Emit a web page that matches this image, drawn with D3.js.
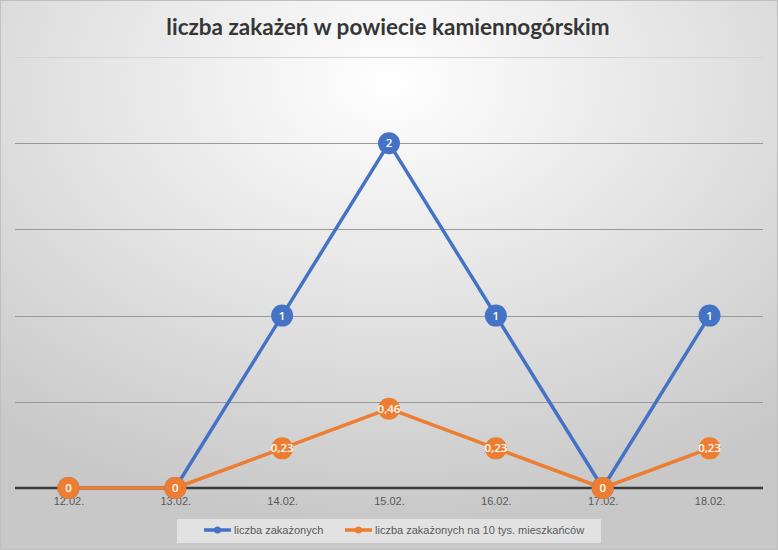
<!DOCTYPE html>
<html lang="pl">
<head>
<meta charset="UTF-8">
<title>liczba zakażeń</title>
<style>
  body { margin: 0; }
  svg { display: block; }
</style>
</head>
<body>
<svg id="chart"></svg>
<script src="https://cdn.jsdelivr.net/npm/d3@7/dist/d3.min.js"></script>
<script>
  // dane
  const days = ['12.02.', '13.02.', '14.02.', '15.02.', '16.02.', '17.02.', '18.02.'];
  const cases = [0, 0, 1, 2, 1, 0, 1];
  const casesPer10k = [0, 0, 0.23, 0.46, 0.23, 0, 0.23];
  const casesLabels = ['0', '0', '1', '2', '1', '0', '1'];
  const per10kLabels = ['0', '0', '0,23', '0,46', '0,23', '0', '0,23'];
  const yTicks = [0, 0.5, 1, 1.5, 2, 2.5];
  const seriesNames = ['liczba zakażonych', 'liczba zakażonych na 10 tys. mieszkańców'];

  const width = 778, height = 550;
  const margin = { top: 57, right: 15, bottom: 62, left: 15 };

  const svg = d3.select('#chart').attr('width', width).attr('height', height);

  // tło
  const defs = svg.append('defs');
  const grad = defs.append('radialGradient')
    .attr('id', 'bg')
    .attr('cx', '50%').attr('cy', '15%').attr('r', '80%');
  grad.append('stop').attr('offset', '0%').attr('stop-color', '#ffffff');
  grad.append('stop').attr('offset', '100%').attr('stop-color', '#c8c8c8');

  svg.append('rect')
    .attr('x', 0.5).attr('y', 0.5)
    .attr('width', width - 1).attr('height', height - 1)
    .attr('fill', 'url(#bg)')
    .attr('stroke', '#bfbfbf');

  svg.append('text')
    .attr('x', width / 2 - 1)
    .attr('y', 35)
    .attr('text-anchor', 'middle')
    .attr('font-family', 'Lato, "Open Sans", sans-serif')
    .attr('font-weight', 'bold')
    .attr('font-size', 22.5)
    .attr('fill', '#363636')
    .text('liczba zakażeń w powiecie kamiennogórskim');

  const x = d3.scalePoint()
    .domain(days)
    .range([margin.left, width - margin.right])
    .padding(0.5);

  const y = d3.scaleLinear()
    .domain([0, 2.5])
    .range([488, margin.top]);

  // siatka
  svg.append('g')
    .selectAll('line')
    .data(yTicks.filter(d => d > 0))
    .join('line')
    .attr('x1', margin.left).attr('x2', width - margin.right)
    .attr('y1', d => Math.round(y(d)) + 0.5).attr('y2', d => Math.round(y(d)) + 0.5)
    .attr('stroke', d => d === 2.5 ? '#d4d4d4' : '#9a9a9a')
    .attr('stroke-width', 1);

  // oś x
  const xAxis = d3.axisBottom(x).tickSize(0).tickPadding(9);
  const gx = svg.append('g')
    .attr('transform', `translate(0,${y(0)})`)
    .call(xAxis);
  gx.select('.domain')
    .attr('d', `M${margin.left},0H${width - margin.right}`)
    .attr('stroke', '#3a3a3a')
    .attr('stroke-width', 2.5);
  gx.selectAll('text')
    .attr('font-family', '"Liberation Sans", Arial, sans-serif')
    .attr('font-size', 11)
    .attr('fill', '#595959');

  const series = [
    { values: cases, labels: casesLabels, color: '#4472c4' },
    { values: casesPer10k, labels: per10kLabels, color: '#ed7d31' }
  ];

  const line = d3.line()
    .x((d, i) => x(days[i]))
    .y(d => y(d));

  series.forEach(s => {
    svg.append('path')
      .datum(s.values)
      .attr('fill', 'none')
      .attr('stroke', s.color)
      .attr('stroke-width', 3.5)
      .attr('stroke-linejoin', 'round')
      .attr('d', line);
  });

  series.forEach(s => {
    const g = svg.append('g');
    g.selectAll('circle')
      .data(s.values)
      .join('circle')
      .attr('cx', (d, i) => x(days[i]))
      .attr('cy', d => y(d))
      .attr('r', 11)
      .attr('fill', s.color);
    g.selectAll('text')
      .data(s.values)
      .join('text')
      .attr('x', (d, i) => x(days[i]))
      .attr('y', d => y(d) + 4)
      .attr('text-anchor', 'middle')
      .attr('font-family', '"Open Sans", sans-serif')
      .attr('font-weight', 600)
      .attr('font-size', 11.5)
      .attr('fill', '#ffffff')
      .text((d, i) => s.labels[i]);
  });

  // legenda
  const lg = svg.append('g');
  lg.append('rect')
    .attr('x', 177).attr('y', 519)
    .attr('width', 424).attr('height', 24)
    .attr('fill', '#e6e6e6')
    .attr('opacity', 0.85);

  const legendX = [204, 345];
  series.forEach((s, i) => {
    const item = lg.append('g').attr('transform', `translate(${legendX[i]},530)`);
    item.append('line')
      .attr('x1', 0).attr('x2', 27)
      .attr('stroke', s.color).attr('stroke-width', 3.5);
    item.append('circle')
      .attr('cx', 13.5).attr('r', 3.5).attr('fill', s.color);
    item.append('text')
      .attr('x', 30).attr('y', 4)
      .attr('font-family', '"Liberation Sans", Arial, sans-serif')
      .attr('font-size', 11)
      .attr('fill', '#595959')
      .text(seriesNames[i]);
  });
</script>
</body>
</html>
